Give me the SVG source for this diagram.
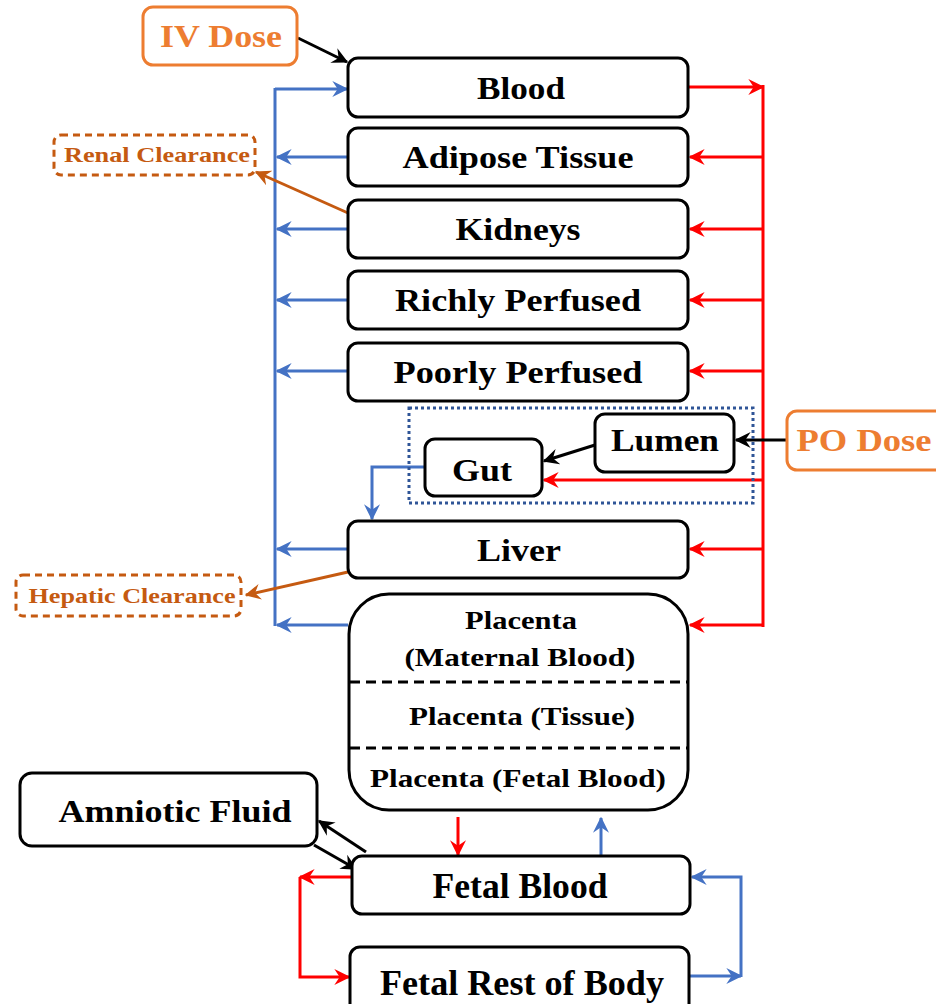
<svg xmlns="http://www.w3.org/2000/svg" width="936" height="1004" viewBox="0 0 936 1004">
<style>
.box{fill:#fff;stroke:#000;stroke-width:3}
text{font-family:'Liberation Serif',Tinos,'Times New Roman',Times,serif;font-weight:700;fill:#000;text-anchor:middle}
.big{font-size:32px}
.mid{font-size:26px}
.or{fill:#ED7D31}
.cl{fill:#C55A11;font-size:21px}
.r{stroke:#FF0000;stroke-width:3;fill:none}
.b{stroke:#4472C4;stroke-width:3;fill:none}
.k{stroke:#000;stroke-width:3;fill:none}
.o{stroke:#C55A11;stroke-width:3;fill:none}
</style>
<defs>
<marker id="ar" viewBox="0 0 12 12" refX="11" refY="6" markerWidth="16" markerHeight="16" markerUnits="userSpaceOnUse" orient="auto"><path d="M0,0 L12,6 L0,12 L4,6 z" fill="#FF0000"/></marker>
<marker id="ab" viewBox="0 0 12 12" refX="11" refY="6" markerWidth="16" markerHeight="16" markerUnits="userSpaceOnUse" orient="auto"><path d="M0,0 L12,6 L0,12 L4,6 z" fill="#4472C4"/></marker>
<marker id="ak" viewBox="0 0 12 12" refX="11" refY="6" markerWidth="16" markerHeight="16" markerUnits="userSpaceOnUse" orient="auto"><path d="M0,0 L12,6 L0,12 L4,6 z" fill="#000"/></marker>
<marker id="ao" viewBox="0 0 12 12" refX="11" refY="6" markerWidth="16" markerHeight="16" markerUnits="userSpaceOnUse" orient="auto"><path d="M0,0 L12,6 L0,12 L4,6 z" fill="#C55A11"/></marker>
</defs>

<g id="connectors">
<line class="r" x1="688" y1="87" x2="763" y2="87" marker-end="url(#ar)"/>
<line class="r" x1="763" y1="85" x2="763" y2="627"/>
<line class="r" x1="763" y1="157" x2="690" y2="157" marker-end="url(#ar)"/>
<line class="r" x1="763" y1="229" x2="690" y2="229" marker-end="url(#ar)"/>
<line class="r" x1="763" y1="300" x2="690" y2="300" marker-end="url(#ar)"/>
<line class="r" x1="763" y1="371" x2="690" y2="371" marker-end="url(#ar)"/>
<line class="r" x1="763" y1="480" x2="544" y2="480" marker-end="url(#ar)"/>
<line class="r" x1="763" y1="549" x2="690" y2="549" marker-end="url(#ar)"/>
<line class="r" x1="763" y1="625" x2="690" y2="625" marker-end="url(#ar)"/>
<line class="b" x1="275" y1="89" x2="347" y2="89" marker-end="url(#ab)"/>
<line class="b" x1="275" y1="88" x2="275" y2="626"/>
<line class="b" x1="348" y1="157" x2="277" y2="157" marker-end="url(#ab)"/>
<line class="b" x1="348" y1="229" x2="277" y2="229" marker-end="url(#ab)"/>
<line class="b" x1="348" y1="300" x2="277" y2="300" marker-end="url(#ab)"/>
<line class="b" x1="348" y1="371" x2="277" y2="371" marker-end="url(#ab)"/>
<line class="b" x1="348" y1="549" x2="277" y2="549" marker-end="url(#ab)"/>
<line class="b" x1="348" y1="625" x2="277" y2="625" marker-end="url(#ab)"/>
<polyline class="b" points="425,467 372,467 372,519" marker-end="url(#ab)"/>
<line class="k" x1="298" y1="38" x2="347" y2="62" marker-end="url(#ak)"/>
<line class="k" x1="787" y1="440" x2="736" y2="440" marker-end="url(#ak)"/>
<line class="k" x1="595" y1="445" x2="544" y2="461" marker-end="url(#ak)"/>
<line class="o" x1="348" y1="213" x2="256" y2="172" marker-end="url(#ao)"/>
<line class="o" x1="348" y1="572" x2="246" y2="595" marker-end="url(#ao)"/>
<line class="r" x1="458" y1="817" x2="458" y2="855" marker-end="url(#ar)"/>
<line class="b" x1="601" y1="855" x2="601" y2="818" marker-end="url(#ab)"/>
<line class="k" x1="366" y1="852" x2="319" y2="821" marker-end="url(#ak)"/>
<line class="k" x1="314" y1="845" x2="356" y2="869" marker-end="url(#ak)"/>
<line class="r" x1="352" y1="877" x2="300" y2="877" marker-end="url(#ar)"/>
<polyline class="r" points="300,877 300,977 349,977" marker-end="url(#ar)"/>
<polyline class="b" points="689,976 741,976" marker-end="url(#ab)"/>
<polyline class="b" points="741,977 741,877 692,877" marker-end="url(#ab)"/>
</g>

<g id="iv-dose"><rect x="143" y="7" width="154" height="58" rx="10" fill="#fff" stroke="#ED7D31" stroke-width="3"/><text class="big or" x="221" y="47" textLength="122" lengthAdjust="spacingAndGlyphs">IV Dose</text></g>
<g id="po-dose"><rect x="787" y="411" width="160" height="59" rx="10" fill="#fff" stroke="#ED7D31" stroke-width="3"/><text class="big or" x="864" y="451" textLength="135" lengthAdjust="spacingAndGlyphs">PO Dose</text></g>
<g id="renal"><rect x="54" y="135" width="201" height="40" rx="7" fill="#fff" stroke="#C55A11" stroke-width="3" stroke-dasharray="7,5"/><text class="cl" x="157" y="162" textLength="186" lengthAdjust="spacingAndGlyphs">Renal Clearance</text></g>
<g id="hepatic"><rect x="16" y="575" width="225" height="41" rx="7" fill="#fff" stroke="#C55A11" stroke-width="3" stroke-dasharray="7,5"/><text class="cl" x="132" y="603" textLength="207" lengthAdjust="spacingAndGlyphs">Hepatic Clearance</text></g>

<g id="blood"><rect class="box" x="348" y="58" width="340" height="59" rx="10"/><text class="big" x="521" y="99" textLength="88" lengthAdjust="spacingAndGlyphs">Blood</text></g>
<g id="adipose"><rect class="box" x="348" y="128" width="340" height="58" rx="10"/><text class="big" x="518" y="168" textLength="231" lengthAdjust="spacingAndGlyphs">Adipose Tissue</text></g>
<g id="kidneys"><rect class="box" x="348" y="200" width="340" height="58" rx="10"/><text class="big" x="518" y="240" textLength="125" lengthAdjust="spacingAndGlyphs">Kidneys</text></g>
<g id="richly"><rect class="box" x="348" y="271" width="340" height="58" rx="10"/><text class="big" x="518" y="311" textLength="246" lengthAdjust="spacingAndGlyphs">Richly Perfused</text></g>
<g id="poorly"><rect class="box" x="348" y="343" width="340" height="58" rx="10"/><text class="big" x="518" y="383" textLength="249" lengthAdjust="spacingAndGlyphs">Poorly Perfused</text></g>
<g id="gi-region"><rect x="409" y="408" width="344" height="95" fill="none" stroke="#2F5597" stroke-width="3" stroke-dasharray="3,3"/></g>
<g id="lumen"><rect class="box" x="595" y="414" width="139" height="58" rx="10"/><text class="big" x="665" y="451" textLength="108" lengthAdjust="spacingAndGlyphs">Lumen</text></g>
<g id="gut"><rect class="box" x="425" y="439" width="117" height="57" rx="10"/><text class="big" x="482" y="481" textLength="60" lengthAdjust="spacingAndGlyphs">Gut</text></g>
<g id="liver"><rect class="box" x="348" y="521" width="340" height="57" rx="10"/><text class="big" x="519" y="561" textLength="84" lengthAdjust="spacingAndGlyphs">Liver</text></g>
<g id="placenta">
<rect class="box" x="349" y="594" width="339" height="216" rx="40"/>
<line x1="350" y1="682" x2="688" y2="682" stroke="#000" stroke-width="3" stroke-dasharray="10,6"/>
<line x1="350" y1="748" x2="688" y2="748" stroke="#000" stroke-width="3" stroke-dasharray="10,6"/>
<text class="mid" x="521" y="629" textLength="112" lengthAdjust="spacingAndGlyphs">Placenta</text>
<text class="mid" x="520" y="666" textLength="231" lengthAdjust="spacingAndGlyphs">(Maternal Blood)</text>
<text class="mid" x="522" y="725" textLength="226" lengthAdjust="spacingAndGlyphs">Placenta (Tissue)</text>
<text class="mid" x="518" y="787" textLength="296" lengthAdjust="spacingAndGlyphs">Placenta (Fetal Blood)</text>
</g>
<g id="amniotic"><rect class="box" x="20" y="773" width="297" height="73" rx="12"/><text class="big" x="175" y="822" font-size="34" textLength="233" lengthAdjust="spacingAndGlyphs">Amniotic Fluid</text></g>
<g id="fetal-blood"><rect class="box" x="352" y="856" width="338" height="58" rx="10"/><text class="big" x="520" y="898" style="font-size:35px" textLength="175" lengthAdjust="spacingAndGlyphs">Fetal Blood</text></g>
<g id="fetal-rest"><rect class="box" x="350" y="947" width="339" height="70" rx="10"/><text class="big" x="522" y="995" style="font-size:35px" textLength="284" lengthAdjust="spacingAndGlyphs">Fetal Rest of Body</text></g>
</svg>
